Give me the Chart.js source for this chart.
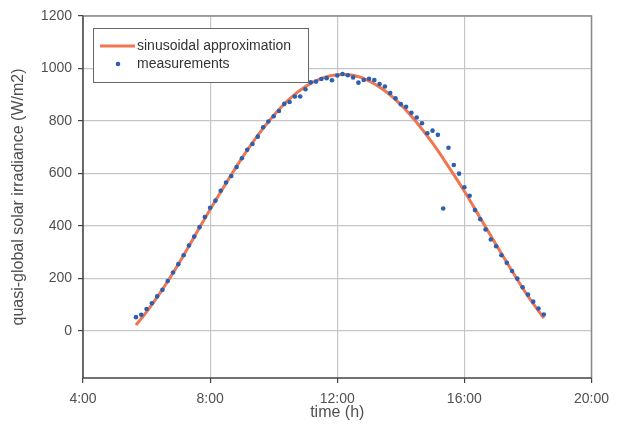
<!DOCTYPE html>
<html>
<head>
<meta charset="utf-8">
<script src="https://cdn.jsdelivr.net/npm/chart.js@4.4.1/dist/chart.umd.min.js"></script>
<style>
    html, body { margin: 0; padding: 0; background: #fff; }
    #wrap { width: 617px; height: 430px; }
</style>
</head>
<body>
<div id="wrap"><canvas id="irradiance-chart" width="617" height="430"></canvas></div>
<script>
// measured irradiance, one reading every 10 minutes
var measureTimes = [
    '5:40', '5:50', '6:00', '6:10', '6:20', '6:30', '6:40', '6:50', '7:00', '7:10', '7:20', '7:30',
    '7:40', '7:50', '8:00', '8:10', '8:20', '8:30', '8:40', '8:50', '9:00', '9:10', '9:20', '9:30',
    '9:40', '9:50', '10:00', '10:10', '10:20', '10:30', '10:40', '10:50', '11:00', '11:10', '11:20', '11:30',
    '11:40', '11:50', '12:00', '12:10', '12:20', '12:30', '12:40', '12:50', '13:00', '13:10', '13:20', '13:30',
    '13:40', '13:50', '14:00', '14:10', '14:20', '14:30', '14:40', '14:50', '15:00', '15:10', '15:20', '15:30',
    '15:40', '15:50', '16:00', '16:10', '16:20', '16:30', '16:40', '16:50', '17:00', '17:10', '17:20', '17:30',
    '17:40', '17:50', '18:00', '18:10', '18:20', '18:30'
];
var measureValues = [
    52, 61, 83, 105, 131, 156, 190, 222, 254, 288, 325, 359,
    395, 434, 469, 496, 534, 565, 590, 624, 658, 690, 712, 740,
    776, 798, 818, 838, 865, 872, 893, 893, 921, 947, 950, 960,
    963, 955, 973, 979, 974, 966, 946, 956, 961, 956, 941, 931,
    906, 886, 864, 854, 831, 813, 791, 753, 763, 747, 466, 698,
    632, 599, 547, 515, 460, 425, 386, 348, 322, 288, 259, 228,
    199, 166, 138, 111, 85, 62
];

// sinusoidal approximation
var curveTimes = [
    '5:40', '6:00', '6:30', '7:00', '7:30', '8:00', '8:30', '9:00', '9:30', '10:00', '10:30', '11:00',
    '11:30', '12:00', '12:30', '13:00', '13:30', '14:00', '14:30', '15:00', '15:30', '16:00', '16:30', '17:00',
    '17:30', '18:00', '18:30'
];
var curveValues = [
    22, 72, 158, 254, 358, 462, 562, 658, 745, 821, 884, 931,
    962, 976, 974, 953, 915, 862, 794, 715, 626, 532, 430, 328,
    228, 132, 48
];

var xTicks = [4, 8, 12, 16, 20];
var yTicks = [0, 200, 400, 600, 800, 1000, 1200];

var textColor = '#505050';
var lineColor = '#f0764f';
var dotColor = '#2b5fb0';

function toHours(str) {
    var parts = str.split(':');
    return Number(parts[0]) + Number(parts[1]) / 60;
}

function toPoints(times, values) {
    return times.map((t, i) => ({ x: toHours(t), y: values[i] }));
}

var frameAndLegend = {
    id: 'frameAndLegend',
    afterDatasetsDraw(chart) {
        const ctx = chart.ctx;
        const a = chart.chartArea;
        ctx.save();
        // top and right frame
        ctx.strokeStyle = '#8a8a8a';
        ctx.lineWidth = 1.5;
        ctx.beginPath();
        ctx.moveTo(a.left, a.top);
        ctx.lineTo(a.right, a.top);
        ctx.lineTo(a.right, a.bottom);
        ctx.stroke();
        // left and bottom axis
        ctx.strokeStyle = '#444';
        ctx.beginPath();
        ctx.moveTo(a.left, a.top);
        ctx.lineTo(a.left, a.bottom);
        ctx.lineTo(a.right, a.bottom);
        ctx.stroke();

        // legend box
        ctx.fillStyle = '#fff';
        ctx.fillRect(93, 28, 215, 54);
        ctx.strokeStyle = '#666';
        ctx.lineWidth = 1;
        ctx.strokeRect(93.5, 28.5, 215, 54);

        ctx.strokeStyle = lineColor;
        ctx.lineWidth = 3;
        ctx.beginPath();
        ctx.moveTo(100, 46);
        ctx.lineTo(135, 46);
        ctx.stroke();

        ctx.fillStyle = dotColor;
        ctx.beginPath();
        ctx.arc(118, 64, 2.3, 0, Math.PI * 2);
        ctx.fill();

        ctx.fillStyle = '#333';
        ctx.font = '14px "Liberation Sans", Arial, sans-serif';
        ctx.textBaseline = 'middle';
        ctx.fillText('sinusoidal approximation', 137, 46);
        ctx.fillText('measurements', 137, 64);
        ctx.restore();
    }
};

var tickFont = { family: '"Liberation Sans", Arial, sans-serif', size: 14 };
var titleFont = { family: '"Liberation Sans", Arial, sans-serif', size: 16 };

const ctx = document.getElementById('irradiance-chart');
new Chart(ctx, {
    type: 'scatter',
    data: {
        datasets: [{
            label: 'measurements',
            data: toPoints(measureTimes, measureValues),
            backgroundColor: dotColor,
            borderColor: dotColor,
            pointRadius: 2.3,
            pointBorderWidth: 0,
            showLine: false,
            order: 0
        }, {
            label: 'sinusoidal approximation',
            data: toPoints(curveTimes, curveValues),
            borderColor: lineColor,
            borderWidth: 3,
            pointRadius: 0,
            showLine: true,
            tension: 0.4,
            order: 1
        }]
    },
    options: {
        responsive: false,
        animation: false,
        layout: { padding: { left: 9, top: 16, right: 24, bottom: 8 } },
        plugins: {
            legend: { display: false },
            tooltip: { enabled: false }
        },
        scales: {
            x: {
                type: 'linear',
                min: 4,
                max: 20,
                afterBuildTicks: axis => { axis.ticks = xTicks.map(v => ({ value: v })); },
                afterFit: scale => { scale.height = 44; },
                ticks: {
                    color: textColor,
                    font: tickFont,
                    padding: 8,
                    maxRotation: 0,
                    callback: v => v + ':00'
                },
                grid: { color: '#c6c6c6', tickColor: '#444', tickLength: 5, lineWidth: 1.2 },
                border: { display: false },
                title: {
                    display: true,
                    text: 'time (h)',
                    color: textColor,
                    font: titleFont,
                    padding: { top: 0, bottom: 0 }
                }
            },
            y: {
                min: -180,
                max: 1200,
                afterBuildTicks: axis => { axis.ticks = yTicks.map(v => ({ value: v })); },
                afterFit: scale => { scale.width = 74; },
                ticks: {
                    color: textColor,
                    font: tickFont,
                    padding: 6,
                    callback: v => String(v)
                },
                grid: { color: '#c6c6c6', tickColor: '#444', tickLength: 5, lineWidth: 1.2 },
                border: { display: false },
                title: {
                    display: true,
                    text: 'quasi-global solar irradiance (W/m2)',
                    color: textColor,
                    font: titleFont,
                    padding: { top: 0, bottom: 0 }
                }
            }
        }
    },
    plugins: [frameAndLegend]
});
</script>
</body>
</html>
